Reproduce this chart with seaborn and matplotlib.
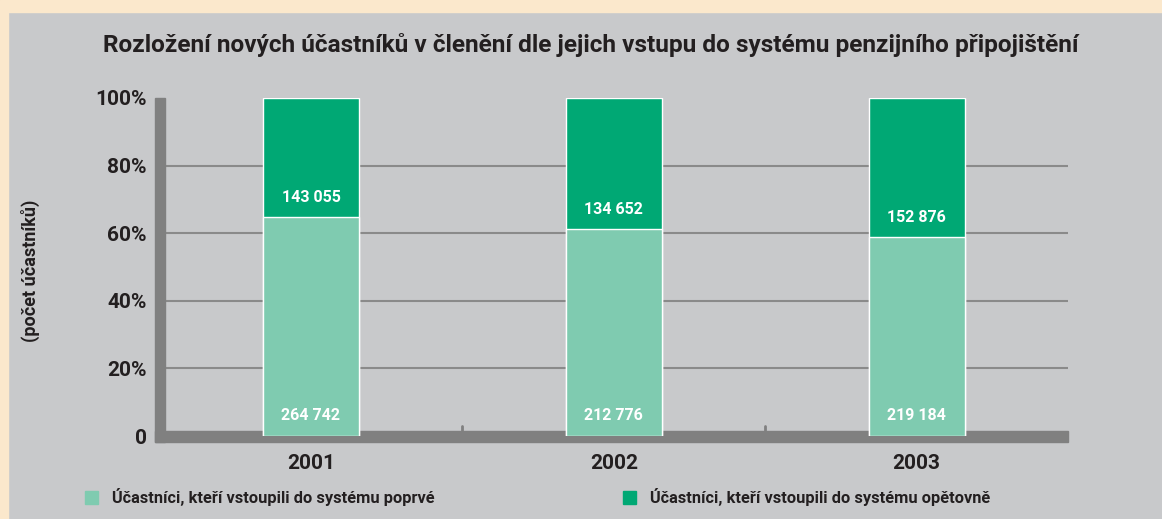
import pandas as pd
import numpy as np
import seaborn as sns
import matplotlib.pyplot as plt
from matplotlib.patches import Rectangle

# data
years = ["2001", "2002", "2003"]
first_time = [264742, 212776, 219184]
returning = [143055, 134652, 152876]
y_ticks = [0, 0.2, 0.4, 0.6, 0.8, 1.0]
y_tick_labels = ["0", "20%", "40%", "60%", "80%", "100%"]

title = "Rozložení nových účastníků v členění dle jejich vstupu do systému penzijního připojištění"
ylabel = "(počet účastníků)"
legend_labels = ["Účastníci, kteří vstoupili do systému poprvé",
                 "Účastníci, kteří vstoupili do systému opětovně"]

light = "#7fcbb0"
dark = "#00a874"
bg = "#c8c9cb"
wall = "#808080"
ink = "#231f20"

df = pd.DataFrame({"year": years, "first": first_time, "ret": returning})
df["total"] = df["first"] + df["ret"]
df["share_first"] = df["first"] / df["total"]
df["share_all"] = df["total"] / df["total"]

sns.set_theme(style="white")
plt.rcParams["font.family"] = ["Roboto", "DejaVu Sans"]

W, H = 1162, 519
fig = plt.figure(figsize=(W / 100, H / 100), dpi=100, facecolor=bg)

# cream page edge
fig.patches.append(Rectangle((0, 1 - 12 / H), 1, 12 / H, transform=fig.transFigure,
                             color="#fbe8cc", zorder=0))
fig.patches.append(Rectangle((0, 0), 8 / W, 1, transform=fig.transFigure,
                             color="#fbe8cc", zorder=0))

x0, x1, y0, y1 = 165, 1068, 436, 98
ax = fig.add_axes([x0 / W, 1 - y0 / H, (x1 - x0) / W, (y0 - y1) / H])
ax.set_facecolor("none")

sns.barplot(data=df, x="year", y="share_all", color=dark, width=0.317, saturation=1,
            edgecolor="white", linewidth=1, ax=ax, zorder=3)
sns.barplot(data=df, x="year", y="share_first", color=light, width=0.317, saturation=1,
            edgecolor="white", linewidth=1, ax=ax, zorder=4)

ax.set_xlim(-0.482, 2.5)
ax.set_ylim(0, 1)

# grid lines
for t in y_ticks[1:-1]:
    ax.axhline(t, color="#8a8a8a", lw=1.5, zorder=1)

# the grey wall and floor
trans = ax.transAxes
ax.add_patch(Rectangle((-10 / (x1 - x0), -6 / (y0 - y1)), 10 / (x1 - x0), (338 + 6) / (y0 - y1),
                       transform=trans, color=wall, clip_on=False, zorder=2))
ax.add_patch(Rectangle((-10 / (x1 - x0), -6 / (y0 - y1)), (x1 - x0 + 10) / (x1 - x0), 11 / (y0 - y1),
                       transform=trans, color=wall, clip_on=False, zorder=2))
for xm in [0.5, 1.5]:
    ax.plot([xm, xm], [0.015, 0.03], color=wall, lw=2, zorder=2, clip_on=False)

# value labels
for i, row in df.iterrows():
    ax.text(i, 0.062, f"{row['first']:,}".replace(",", " "), ha="center", va="center",
            color="white", fontsize=11.5, fontweight="bold", zorder=5)
    ax.text(i, row["share_first"] + 0.057, f"{row['ret']:,}".replace(",", " "), ha="center",
            va="center", color="white", fontsize=11.5, fontweight="bold", zorder=5)

ax.set_yticks(y_ticks)
ax.set_yticklabels(y_tick_labels)
ax.tick_params(axis="y", length=0, pad=13, labelsize=15, labelcolor=ink)
ax.tick_params(axis="x", length=0, pad=13, labelsize=15, labelcolor=ink)
for lab in ax.get_yticklabels() + ax.get_xticklabels():
    lab.set_fontweight("bold")
ax.set_xlabel("")
ax.set_ylabel("")
sns.despine(ax=ax, left=True, bottom=True)

fig.text(591 / W, 1 - 45 / H, title, ha="center", va="center", fontsize=17.6,
         fontweight="bold", color=ink)
fig.text(30 / W, 1 - 271 / H, ylabel, ha="center", va="center", rotation=90,
         fontsize=13, fontweight="bold", color=ink)

handles = [Rectangle((0, 0), 1, 1, color=light), Rectangle((0, 0), 1, 1, color=dark)]
fig.legend(handles, legend_labels, loc="center left", bbox_to_anchor=(70 / W, 1 - 497 / H),
           ncol=2, frameon=False, handlelength=0.8, handleheight=0.8, handletextpad=0.85,
           columnspacing=11.5, prop={"weight": "bold", "size": 11.8}, labelcolor=ink)

fig.savefig("out.png", dpi=100, facecolor=bg)
